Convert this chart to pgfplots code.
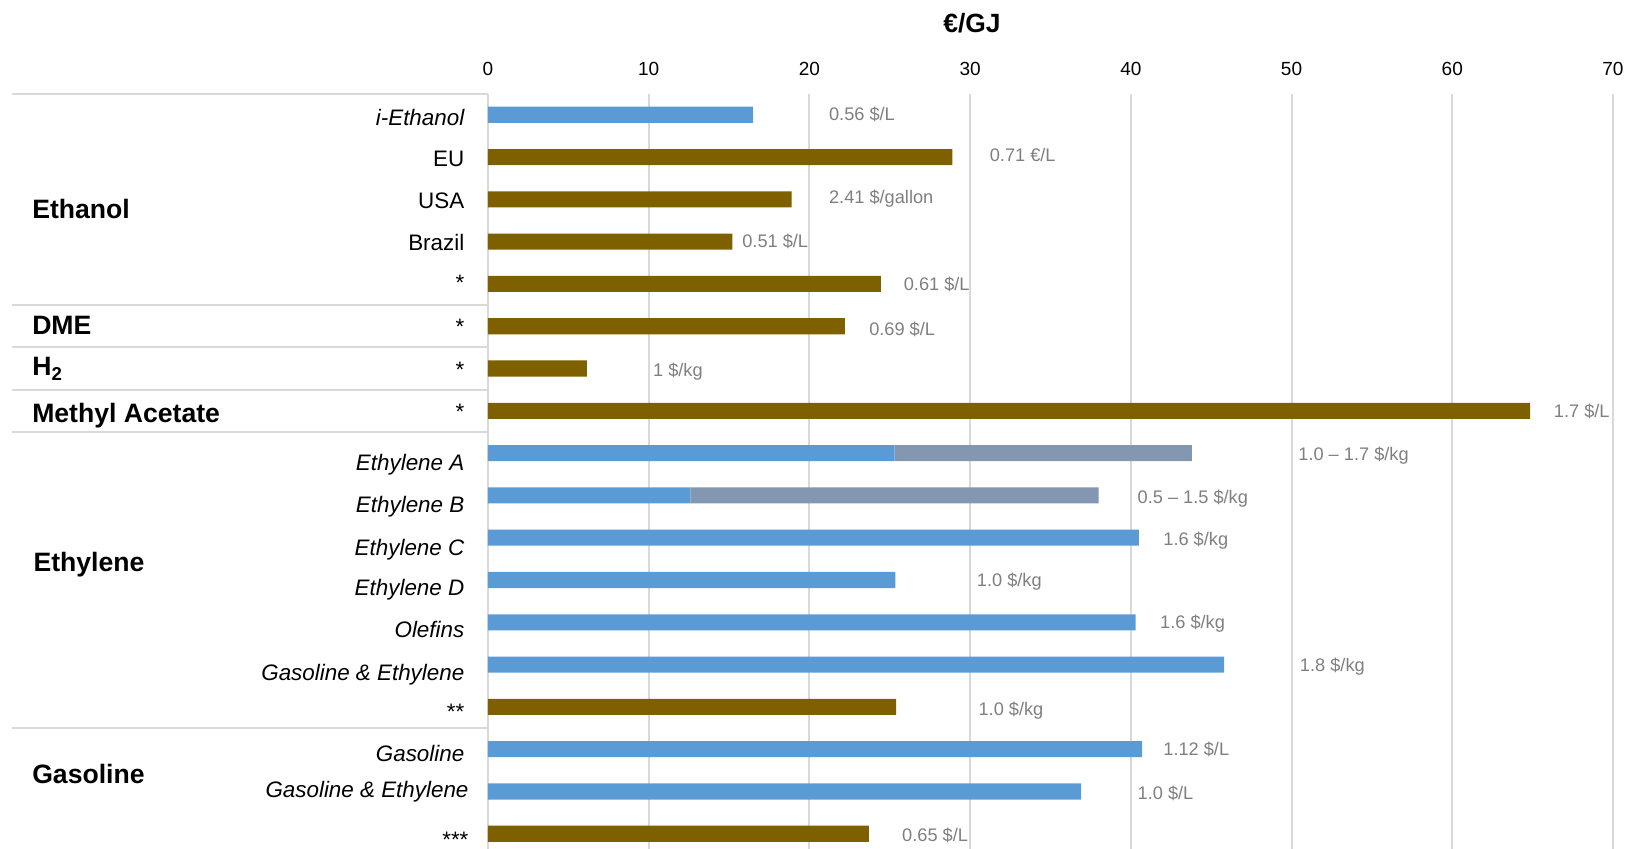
\documentclass[border=0pt]{standalone}
\usepackage{fontspec}
\setmainfont{Liberation Sans}
\usepackage{pgfplots}
\pgfplotsset{compat=1.18}
\usepackage{pgfplotstable}

\definecolor{barblue}{HTML}{5B9BD5}
\definecolor{bargray}{HTML}{8497B0}
\definecolor{barbrown}{HTML}{7F6000}
\definecolor{gridgray}{HTML}{D9D9D9}
\definecolor{valgray}{HTML}{7F7F7F}

% Production cost in EUR/GJ, one row per bar (row 0 at the top)
\pgfplotstableread{
row  blue   range  brown
0    16.5   0      0
1    0      0      28.9
2    0      0      18.9
3    0      0      15.2
4    0      0      24.45
5    0      0      22.2
6    0      0      6.15
7    0      0      64.85
8    25.3   18.5   0
9    12.6   25.4   0
10   40.5   0      0
11   25.35  0      0
12   40.3   0      0
13   45.8   0      0
14   0      0      25.4
15   40.7   0      0
16   36.9   0      0
17   0      0      23.7
}\costs

\tikzset{
  grp/.style={anchor=base west, inner sep=0pt, font=\bfseries\fontsize{13.3}{15}\selectfont},
  cat/.style={anchor=base east, inner sep=0pt, font=\fontsize{11.2}{13}\selectfont},
  catit/.style={anchor=base east, inner sep=0pt, font=\fontsize{11.2}{13}\selectfont\itshape},
  val/.style={anchor=base west, inner sep=0pt, text=valgray, font=\fontsize{9.1}{11}\selectfont},
}

\begin{document}
\begin{tikzpicture}
\path[use as bounding box] (0,0) rectangle (815pt,-424.5pt);
\node[font=\bfseries\fontsize{13.2}{15}\selectfont, anchor=base, inner sep=0pt] at (486pt,-16.25pt) {€/GJ};
\begin{axis}[
  scale only axis, width=562.5pt, height=377.7pt,
  at={(244pt,-46.8pt)}, anchor=north west,
  xmin=0, xmax=70, ymin=-0.5, ymax=17.36, y dir=reverse,
  xbar stacked, bar width=0.38,
  xtick={0,10,...,70}, xticklabel pos=upper, ytick=\empty,
  major tick length=0pt,
  axis line style={draw=none},
  xmajorgrids, grid style={gridgray, line width=1pt},
  /pgf/number format/assume math mode=true,
  xticklabel style={font=\fontsize{9.5}{11}\selectfont, anchor=base, yshift=9pt},
  clip=false,
]
\addplot[fill=barblue, draw=none] table[x=blue, y=row] {\costs};
\addplot[fill=bargray, draw=none] table[x=range, y=row] {\costs};
\addplot[fill=barbrown, draw=none] table[x=brown, y=row] {\costs};

% table rules on the left
\draw[gridgray, line width=1pt] (axis cs:-29.59,-0.5) -- (axis cs:0,-0.5);
\draw[gridgray, line width=1pt] (axis cs:-29.59,4.5) -- (axis cs:0,4.5);
\draw[gridgray, line width=1pt] (axis cs:-29.59,5.5) -- (axis cs:0,5.5);
\draw[gridgray, line width=1pt] (axis cs:-29.59,6.5) -- (axis cs:0,6.5);
\draw[gridgray, line width=1pt] (axis cs:-29.59,7.5) -- (axis cs:0,7.5);
\draw[gridgray, line width=1pt] (axis cs:-29.59,14.5) -- (axis cs:0,14.5);

% group names
\node[grp] at (axis cs:-28.38,2.46) {Ethanol};
\node[grp] at (axis cs:-28.38,5.2) {DME};
\node[grp] at (axis cs:-28.38,6.17) {H\textsubscript{2}};
\node[grp] at (axis cs:-28.38,7.27) {Methyl Acetate};
\node[grp] at (axis cs:-28.30,10.8) {Ethylene};
\node[grp] at (axis cs:-28.38,15.8) {Gasoline};

% row names
\node[catit] at (axis cs:-1.45,0.264) {i-Ethanol};
\node[cat] at (axis cs:-1.45,1.215) {EU};
\node[cat] at (axis cs:-1.45,2.215) {USA};
\node[cat] at (axis cs:-1.45,3.215) {Brazil};
\node[cat] at (axis cs:-1.45,4.148) {*};
\node[cat] at (axis cs:-1.45,5.19) {*};
\node[cat] at (axis cs:-1.45,6.205) {*};
\node[cat] at (axis cs:-1.45,7.205) {*};
\node[catit] at (axis cs:-1.45,8.4) {Ethylene A};
\node[catit] at (axis cs:-1.45,9.4) {Ethylene B};
\node[catit] at (axis cs:-1.45,10.42) {Ethylene C};
\node[catit] at (axis cs:-1.45,11.37) {Ethylene D};
\node[catit] at (axis cs:-1.45,12.37) {Olefins};
\node[catit] at (axis cs:-1.45,13.37) {Gasoline \& Ethylene};
\node[cat] at (axis cs:-1.45,14.303) {**};
\node[catit] at (axis cs:-1.45,15.288) {Gasoline};
\node[catit] at (axis cs:-1.19,16.141) {Gasoline \& Ethylene};
\node[cat] at (axis cs:-1.19,17.32) {***};

% prices in original units
\node[val] at (axis cs:21.2,0.129) {0.56 \$/L};
\node[val] at (axis cs:31.2,1.105) {0.71 €/L};
\node[val] at (axis cs:21.2,2.105) {2.41 \$/gallon};
\node[val] at (axis cs:15.8,3.129) {0.51 \$/L};
\node[val] at (axis cs:25.85,4.154) {0.61 \$/L};
\node[val] at (axis cs:23.7,5.228) {0.69 \$/L};
\node[val] at (axis cs:10.25,6.179) {1 \$/kg};
\node[val] at (axis cs:66.3,7.154) {1.7 \$/L};
\node[val] at (axis cs:50.4,8.179) {1.0 – 1.7 \$/kg};
\node[val] at (axis cs:40.4,9.203) {0.5 – 1.5 \$/kg};
\node[val] at (axis cs:42.0,10.179) {1.6 \$/kg};
\node[val] at (axis cs:30.4,11.154) {1.0 \$/kg};
\node[val] at (axis cs:41.8,12.154) {1.6 \$/kg};
\node[val] at (axis cs:50.5,13.154) {1.8 \$/kg};
\node[val] at (axis cs:30.5,14.203) {1.0 \$/kg};
\node[val] at (axis cs:42.0,15.154) {1.12 \$/L};
\node[val] at (axis cs:40.4,16.179) {1.0 \$/L};
\node[val] at (axis cs:25.75,17.19) {0.65 \$/L};
\end{axis}
\end{tikzpicture}
\end{document}
